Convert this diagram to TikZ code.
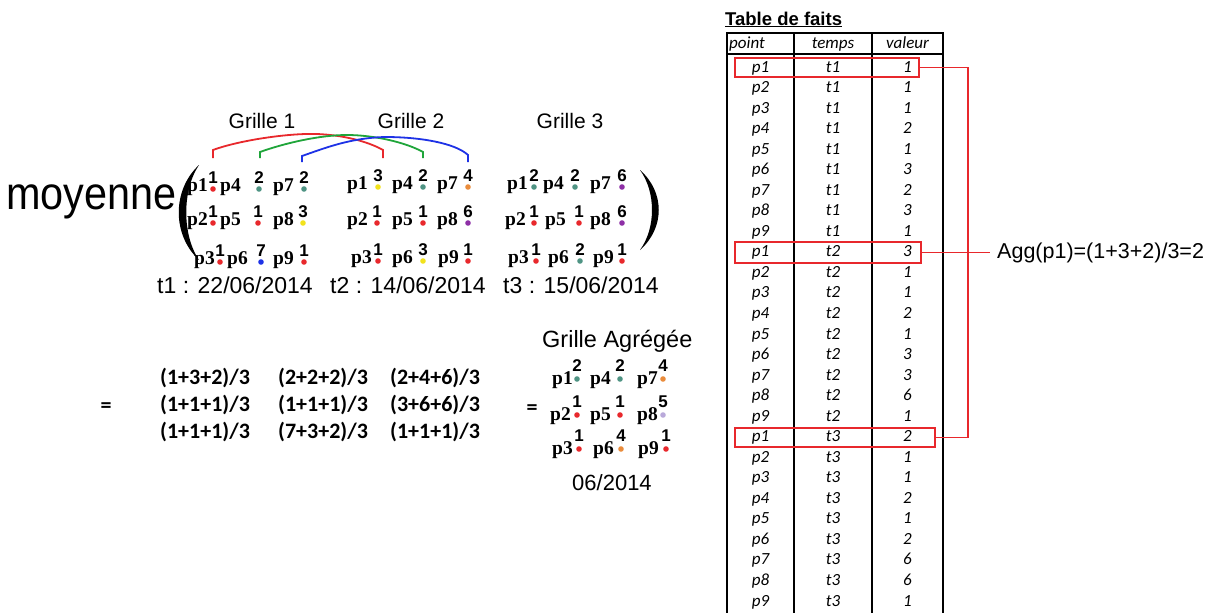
\documentclass[tikz,border=0pt]{standalone}
\usepackage{fontspec}
\setmainfont{Liberation Sans}
\newfontfamily\serifp{Liberation Serif}
\newfontfamily\calib{Carlito}
\usetikzlibrary{calc}
\definecolor{cred}{HTML}{E8282C}
\definecolor{cteal}{HTML}{4F9484}
\definecolor{cyel}{HTML}{F2E21C}
\definecolor{corg}{HTML}{EA8C3C}
\definecolor{cpur}{HTML}{8E2FA6}
\definecolor{cblue}{HTML}{1E32E6}
\definecolor{clav}{HTML}{B9A9DA}
\definecolor{cgreen}{HTML}{1FA53A}
\def\numup{8}\def\dotup{2}
\newcommand\gp[7]{%
  \node[plab,anchor=base west] (#1p#4) at (#2,#3) {p#4};
  \node[pnum,anchor=base] (#1n#4) at (#5,#3-\numup) {#6};
  \fill[#7] (#5,#3-\dotup) circle (2.8);
}
\begin{document}
\begin{tikzpicture}[x=1pt,y=-1pt,
  plab/.style={font=\serifp\bfseries\fontsize{19.5}{19.5}\selectfont,inner sep=0pt},
  pnum/.style={font=\bfseries\fontsize{17}{17}\selectfont,inner sep=0pt},
  ttl/.style={font=\fontsize{21}{21}\selectfont,inner sep=0pt},
  datef/.style={font=\fontsize{23}{23}\selectfont,inner sep=0pt},
  expr/.style={font=\calib\bfseries\fontsize{22}{22}\selectfont,inner sep=0pt},
  tab/.style={font=\calib\itshape\fontsize{17}{17}\selectfont,inner sep=0pt},
  rl/.style={cred,line width=1.6pt},
  arcl/.style={line width=1.8pt}]
\useasboundingbox (0,0) rectangle (1224,613);
\fill[white] (0,0) rectangle (1224,613);

% moyenne
\node[anchor=base west,inner sep=0pt,font=\fontsize{46}{46}\selectfont] (moy) at (6,209) {\scalebox{0.9}[1]{moyenne}};
% parentheses
\fill (199,165) .. controls (172,190) and (172,235) .. (199,260)
      .. controls (182,235) and (182,190) .. (199,165) -- cycle;
\fill (640,170) .. controls (665,192) and (665,228) .. (640,250)
      .. controls (656,228) and (656,192) .. (640,170) -- cycle;

% titles
\node[ttl,anchor=base] (g1) at (262,128) {Grille 1};
\node[ttl,anchor=base] (g2) at (411,128) {Grille 2};
\node[ttl,anchor=base] (g3) at (570,128) {Grille 3};

% grid 1
\gp{a}{187}{191}{1}{213}{1}{cred}
\gp{a}{220}{191}{4}{259}{2}{cteal}
\gp{a}{273}{191}{7}{304}{2}{cteal}
\gp{a}{187}{225}{2}{213}{1}{cred}
\gp{a}{220}{225}{5}{258}{1}{cred}
\gp{a}{273}{225}{8}{303}{3}{cyel}
\gp{a}{194}{264}{3}{220}{1}{cred}
\gp{a}{227}{264}{6}{261}{7}{cblue}
\gp{a}{273}{264}{9}{304}{1}{cred}
% grid 2
\gp{b}{347}{189}{1}{378}{3}{cyel}
\gp{b}{392}{189}{4}{423}{2}{cteal}
\gp{b}{437}{189}{7}{468}{4}{corg}
\gp{b}{347}{225}{2}{377}{1}{cred}
\gp{b}{392}{225}{5}{423}{1}{cred}
\gp{b}{437}{225}{8}{468}{6}{cpur}
\gp{b}{351}{263}{3}{378}{1}{cred}
\gp{b}{392}{263}{6}{423}{3}{cyel}
\gp{b}{438}{263}{9}{468}{1}{cred}
% grid 3
\gp{c}{507}{189}{1}{534}{2}{cteal}
\gp{c}{543}{189}{4}{575}{2}{cteal}
\gp{c}{590}{189}{7}{622}{6}{cpur}
\gp{c}{505}{225}{2}{534}{1}{cred}
\gp{c}{545}{225}{5}{579}{1}{cred}
\gp{c}{590}{225}{8}{622}{6}{cpur}
\gp{c}{508}{263}{3}{536}{1}{cred}
\gp{c}{548}{263}{6}{580}{2}{cteal}
\gp{c}{593}{263}{9}{622}{1}{cred}

% arcs
\coordinate (ra) at (213,158); \coordinate (rb) at (383,158);
\coordinate (ga) at (260,158); \coordinate (gb) at (423,158);
\coordinate (ba) at (302,162); \coordinate (bb) at (468,162);
\draw[arcl,cred] (ra) -- (213,150) .. controls (240,140) and (290,133) .. (317,134)
   .. controls (342,135) and (367,141) .. (383,150) -- (rb);
\draw[arcl,cgreen] (ga) -- (260,152) .. controls (285,143) and (320,135) .. (347,135)
   .. controls (373,135) and (405,142) .. (423,152) -- (gb);
\draw[arcl,cblue] (ba) -- (302,156) .. controls (325,148) and (350,138) .. (385,137)
   .. controls (420,137) and (455,143) .. (468,155) -- (bb);

% dates
\node[datef,anchor=base west] (d1) at (157,293) {t1 : 22/06/2014};
\node[datef,anchor=base west] (d2) at (330,293) {t2 : 14/06/2014};
\node[datef,anchor=base west] (d3) at (503,293) {t3 : 15/06/2014};

% equals and expressions
\node[expr,anchor=base] (eq1) at (106,412) {=};
\node[expr,anchor=base west] (e1) at (160,384) {(1+3+2)/3};
\node[expr,anchor=base west] (e2) at (278,384) {(2+2+2)/3};
\node[expr,anchor=base west] (e3) at (390,384) {(2+4+6)/3};
\node[expr,anchor=base west] (e4) at (160,411) {(1+1+1)/3};
\node[expr,anchor=base west] (e5) at (278,411) {(1+1+1)/3};
\node[expr,anchor=base west] (e6) at (390,411) {(3+6+6)/3};
\node[expr,anchor=base west] (e7) at (160,438) {(1+1+1)/3};
\node[expr,anchor=base west] (e8) at (278,438) {(7+3+2)/3};
\node[expr,anchor=base west] (e9) at (390,438) {(1+1+1)/3};

% aggregated grid
\node[anchor=base west,inner sep=0pt,font=\fontsize{23.5}{23.5}\selectfont] (gag) at (542,347) {Grille Agrégée};
\node[expr,anchor=base] (eq2) at (532,414) {=};
\def\numup{13}\def\dotup{5}
\gp{d}{552}{384}{1}{577}{2}{cteal}
\gp{d}{590}{384}{4}{620}{2}{cteal}
\gp{d}{637}{384}{7}{663}{4}{corg}
\gp{d}{550}{420}{2}{577}{1}{cred}
\gp{d}{590}{420}{5}{620}{1}{cred}
\gp{d}{637}{420}{8}{663}{5}{clav}
\gp{d}{552}{454}{3}{579}{1}{cred}
\gp{d}{593}{454}{6}{621}{4}{corg}
\gp{d}{638}{454}{9}{666}{1}{cred}
\node[anchor=base west,inner sep=0pt,font=\fontsize{22}{22}\selectfont] (dag) at (572,490) {06/2014};

% table
\node[anchor=base west,inner sep=0pt,font=\bfseries\fontsize{18.5}{18.5}\selectfont] (tt) at (725,25) {\underline{Table de faits}};
\draw[line width=2pt] (727,33) rectangle (943,618);
\draw[line width=2pt] (727,54) -- (943,54);
\draw[line width=1.5pt] (794,33) -- (794,618);
\draw[line width=1.5pt] (872,33) -- (872,618);
\node[tab,anchor=base west] (h1) at (729,48) {point};
\node[tab,anchor=base] (h2) at (833,48) {temps};
\node[tab,anchor=base] (h3) at (907.5,48) {valeur};
\foreach \p/\t/\v [count=\i from 0] in {1/1/1,2/1/1,3/1/1,4/1/2,5/1/1,6/1/3,7/1/2,8/1/3,9/1/1,
  1/2/3,2/2/1,3/2/1,4/2/2,5/2/1,6/2/3,7/2/3,8/2/6,9/2/1,
  1/3/2,2/3/1,3/3/1,4/3/2,5/3/1,6/3/2,7/3/6,8/3/6,9/3/1} {
  \node[tab,anchor=base] (ta\i) at (760.5,72+20.54*\i) {p\p};
  \node[tab,anchor=base] (tb\i) at (833,72+20.54*\i) {t\t};
  \node[tab,anchor=base] (tc\i) at (907.5,72+20.54*\i) {\v};
}
% red boxes
\draw[rl] (735,58) rectangle (919,77);
\draw[rl] (735,242) rectangle (921,263);
\draw[rl] (735,428) rectangle (935,447);
\coordinate (rb1) at (919,67.5);
\coordinate (rb2) at (921,252.5);
\coordinate (rb3) at (935,437.5);
\coordinate (c1) at (968,67.5);
\coordinate (c3) at (968,437.5);
\node[anchor=west,inner xsep=7pt,inner ysep=0pt,font=\fontsize{21.5}{21.5}\selectfont] (agg) at (990,252.5) {Agg(p1)=(1+3+2)/3=2};
\draw[rl] (rb1) -- (c1) -- (c3) -- (rb3);
\draw[rl] (rb2) -- (agg.west);
\end{tikzpicture}
\end{document}
